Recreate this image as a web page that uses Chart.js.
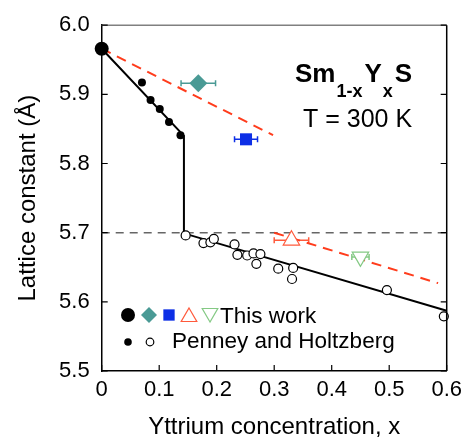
<!DOCTYPE html>
<html>
<head>
<meta charset="utf-8">
<script src="https://cdn.jsdelivr.net/npm/chart.js@4/dist/chart.umd.min.js"></script>
<style>
  html, body { margin: 0; padding: 0; background: #fff; }
  #wrap { width: 468px; height: 439px; }
</style>
</head>
<body>
<div id="wrap"><canvas id="chart"></canvas></div>
<script>
// Penney and Holtzberg
const penneyFilledX = [0.070, 0.085, 0.101, 0.117, 0.137];
const penneyFilledY = [5.917, 5.892, 5.879, 5.860, 5.841];
const penneyOpenX = [0.146, 0.177, 0.189, 0.195, 0.231, 0.236, 0.253, 0.264, 0.276, 0.269, 0.307, 0.333, 0.331, 0.496, 0.595];
const penneyOpenY = [5.696, 5.685, 5.686, 5.691, 5.683, 5.668, 5.667, 5.670, 5.669, 5.655, 5.648, 5.649, 5.633, 5.617, 5.579];

// This work
const workX = [0, 0.168, 0.251, 0.330, 0.450];
const workY = [5.966, 5.916, 5.835, 5.689, 5.665];
const workXErr = [0, 0.030, 0.020, 0.030, 0.015];

// guide lines
const solidLineX = [0, 0.143, 0.143, 0.6];
const solidLineY = [5.966, 5.840, 5.699, 5.587];
const redDash1X = [0, 0.298];
const redDash1Y = [5.966, 5.841];
const redDash2X = [0.300, 0.585];
const redDash2Y = [5.700, 5.627];
const refLineX = [0, 0.6];
const refLineY = [5.7, 5.7];

const xTicks = [0, 0.1, 0.2, 0.3, 0.4, 0.5, 0.6];
const yTicks = [5.5, 5.6, 5.7, 5.8, 5.9, 6.0];

const FONT = "'Liberation Sans', Arial, Helvetica, sans-serif";
const TEAL = '#4a9a95';
const BLUE = '#0d2fe6';
const RED = '#ff3c1c';
const RED_TRI = '#ff5a3c';
const GREEN = '#84c984';

function pts(xs, ys) {
    return xs.map((x, i) => ({ x: x, y: ys[i] }));
}

function workPoint(i) {
    return [{ x: workX[i], y: workY[i], xErr: workXErr[i] }];
}

const datasets = [
    { data: workPoint(0), pointStyle: 'circle', pointRadius: 7, backgroundColor: '#000', borderColor: '#000', borderWidth: 0 },
    { data: workPoint(1), pointStyle: 'rectRot', pointRadius: 9, backgroundColor: TEAL, borderColor: TEAL, borderWidth: 0, errColor: TEAL },
    { data: workPoint(2), pointStyle: 'rect', pointRadius: 8.5, backgroundColor: BLUE, borderColor: BLUE, borderWidth: 0, errColor: BLUE },
    { data: workPoint(3), pointStyle: 'triangle', pointRadius: 9.5, backgroundColor: '#fff', borderColor: RED_TRI, borderWidth: 1.2, errColor: RED_TRI },
    { data: workPoint(4), pointStyle: 'triangle', rotation: 180, pointRadius: 9.5, backgroundColor: '#fff', borderColor: GREEN, borderWidth: 1.2, errColor: GREEN },
    { data: pts(penneyFilledX, penneyFilledY), pointRadius: 4, backgroundColor: '#000', borderColor: '#000', borderWidth: 0 },
    { data: pts(penneyOpenX, penneyOpenY), pointRadius: 4.5, backgroundColor: '#fff', borderColor: '#000', borderWidth: 1.2 },
    { data: pts(solidLineX, solidLineY), showLine: true, pointRadius: 0, borderColor: '#000', borderWidth: 2 },
    { data: pts(redDash1X, redDash1Y), showLine: true, pointRadius: 0, borderColor: RED, borderWidth: 2, borderDash: [10, 7] },
    { data: pts(redDash2X, redDash2Y), showLine: true, pointRadius: 0, borderColor: RED, borderWidth: 2, borderDash: [10, 7] },
    { data: pts(refLineX, refLineY), showLine: true, pointRadius: 0, borderColor: '#666', borderWidth: 1.5, borderDash: [8, 6] }
];
datasets.forEach(d => { d.clip = false; d.pointHoverRadius = d.pointRadius; });

// horizontal error bars, drawn under the markers
const errorBars = {
    id: 'errorBars',
    beforeDatasetsDraw(chart) {
        const ctx = chart.ctx;
        const xs = chart.scales.x, ys = chart.scales.y;
        ctx.save();
        chart.data.datasets.forEach(ds => {
            if (!ds.errColor) return;
            ds.data.forEach(p => {
                const y = ys.getPixelForValue(p.y);
                const x1 = xs.getPixelForValue(p.x - p.xErr);
                const x2 = xs.getPixelForValue(p.x + p.xErr);
                ctx.strokeStyle = ds.errColor;
                ctx.lineWidth = 1.5;
                ctx.beginPath();
                ctx.moveTo(x1, y); ctx.lineTo(x2, y);
                ctx.moveTo(x1, y - 3); ctx.lineTo(x1, y + 3);
                ctx.moveTo(x2, y - 3); ctx.lineTo(x2, y + 3);
                ctx.stroke();
            });
        });
        ctx.restore();
    }
};

// frame, inward ticks, legend and label text
const decorations = {
    id: 'decorations',
    afterDraw(chart) {
        const ctx = chart.ctx;
        const a = chart.chartArea;
        const xs = chart.scales.x, ys = chart.scales.y;
        ctx.save();
        // top (grey) and right frame
        ctx.lineWidth = 1.5;
        ctx.strokeStyle = '#808080';
        ctx.beginPath(); ctx.moveTo(a.left, a.top); ctx.lineTo(a.right, a.top); ctx.stroke();
        ctx.strokeStyle = '#000';
        ctx.beginPath(); ctx.moveTo(a.right, a.top); ctx.lineTo(a.right, a.bottom); ctx.stroke();
        // inward ticks
        ctx.lineWidth = 1.2;
        ctx.beginPath();
        yTicks.forEach(v => {
            const y = ys.getPixelForValue(v);
            ctx.moveTo(a.left, y); ctx.lineTo(a.left + 6, y);
            ctx.moveTo(a.right, y); ctx.lineTo(a.right - 6, y);
        });
        xTicks.forEach(v => {
            const x = xs.getPixelForValue(v);
            ctx.moveTo(x, a.bottom); ctx.lineTo(x, a.bottom - 6);
        });
        ctx.stroke();

        // legend
        const H = Chart.helpers;
        const marks = [
            { x: 128, y: 315, fill: '#000', stroke: '#000', o: { pointStyle: 'circle', radius: 7, borderWidth: 0 } },
            { x: 149, y: 315, fill: TEAL, stroke: TEAL, o: { pointStyle: 'rectRot', radius: 8, borderWidth: 0 } },
            { x: 169, y: 315, fill: BLUE, stroke: BLUE, o: { pointStyle: 'rect', radius: 8, borderWidth: 0 } },
            { x: 189, y: 317, fill: '#fff', stroke: RED_TRI, o: { pointStyle: 'triangle', radius: 9, borderWidth: 1.2 } },
            { x: 210, y: 313, fill: '#fff', stroke: GREEN, o: { pointStyle: 'triangle', rotation: 180, radius: 9, borderWidth: 1.2 } },
            { x: 128, y: 342, fill: '#000', stroke: '#000', o: { pointStyle: 'circle', radius: 3.8, borderWidth: 0 } },
            { x: 150, y: 342, fill: '#fff', stroke: '#000', o: { pointStyle: 'circle', radius: 3.8, borderWidth: 1.2 } }
        ];
        marks.forEach(m => {
            ctx.fillStyle = m.fill;
            ctx.strokeStyle = m.stroke;
            ctx.lineWidth = m.o.borderWidth;
            H.drawPoint(ctx, m.o, m.x, m.y);
        });
        ctx.fillStyle = '#000';
        ctx.textAlign = 'left';
        ctx.textBaseline = 'alphabetic';
        ctx.font = '22.5px ' + FONT;
        ctx.fillText('This work', 220, 323);
        ctx.fillText('Penney and Holtzberg', 172, 348);

        // compound label
        let x = 295;
        const parts = [
            { t: 'Sm', f: 'bold 26px ', dy: 0 },
            { t: '1-x', f: 'bold 18px ', dy: 15 },
            { t: 'Y', f: 'bold 26px ', dy: 0 },
            { t: 'x', f: 'bold 18px ', dy: 15 },
            { t: 'S', f: 'bold 26px ', dy: 0 }
        ];
        parts.forEach(p => {
            ctx.font = p.f + FONT;
            ctx.fillText(p.t, x, 82 + p.dy);
            x += ctx.measureText(p.t).width + (p.dy ? 2 : 1);
        });
        ctx.font = '25px ' + FONT;
        ctx.fillText('T = 300 K', 303, 127);
        ctx.restore();
    }
};

new Chart(document.getElementById('chart').getContext('2d'), {
    type: 'scatter',
    data: { datasets: datasets },
    options: {
        responsive: true,
        maintainAspectRatio: false,
        animation: false,
        events: [],
        layout: { padding: { top: 25, right: 19.7, left: 0, bottom: 0 } },
        plugins: { legend: { display: false }, tooltip: { enabled: false } },
        scales: {
            x: {
                type: 'linear',
                min: 0, max: 0.6,
                afterFit: s => { s.height = 68; },
                afterBuildTicks: s => { s.ticks = xTicks.map(v => ({ value: v })); },
                ticks: {
                    padding: 6,
                    color: '#000',
                    font: { family: FONT, size: 22 },
                    callback: v => (v === 0 ? '0' : v.toFixed(1))
                },
                grid: { display: false, drawTicks: false },
                border: { display: true, color: '#000', width: 1.5 },
                title: {
                    display: true,
                    text: 'Yttrium concentration, x',
                    color: '#000',
                    font: { family: FONT, size: 24, lineHeight: 1 },
                    padding: { top: 0, bottom: 0 }
                }
            },
            y: {
                type: 'linear',
                min: 5.5, max: 6.0,
                afterFit: s => { s.width = 101.7; },
                afterBuildTicks: s => { s.ticks = yTicks.map(v => ({ value: v })); },
                ticks: {
                    padding: 12,
                    color: '#000',
                    font: { family: FONT, size: 22 },
                    callback: v => v.toFixed(1)
                },
                grid: { display: false, drawTicks: false },
                border: { display: true, color: '#000', width: 1.5 },
                title: {
                    display: true,
                    text: 'Lattice constant (Å)',
                    color: '#000',
                    font: { family: FONT, size: 24, lineHeight: 1 },
                    padding: { top: 16, bottom: 0 }
                }
            }
        }
    },
    plugins: [errorBars, decorations]
});
</script>
</body>
</html>
